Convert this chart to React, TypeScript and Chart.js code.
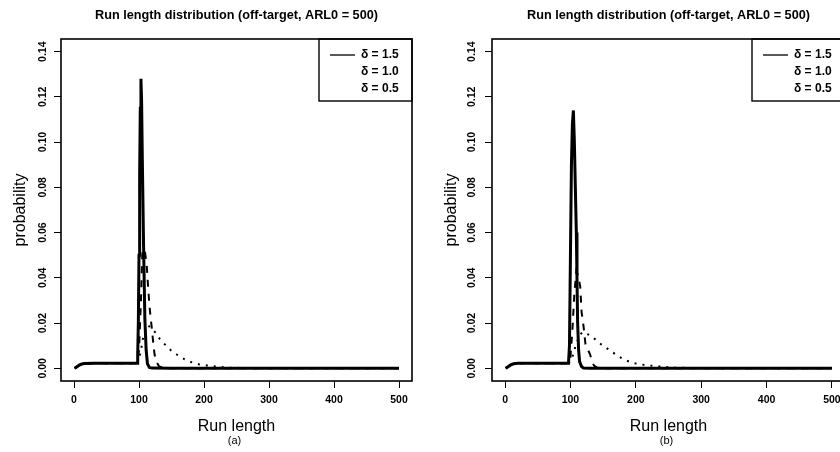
import React, { useEffect, useRef } from "react";
import { Chart, registerables } from "chart.js";

Chart.register(...registerables);

// ---------- shared text / ticks ----------
const titleText = "Run length distribution (off-target, ARL0 = 500)";
const xLabel = "Run length";
const yLabel = "probability";
const legendLabels = ["δ = 1.5", "δ = 1.0", "δ = 0.5"];
const xTicks = [0, 100, 200, 300, 400, 500];
const yTicks = [0, 0.02, 0.04, 0.06, 0.08, 0.1, 0.12, 0.14];

// ---------- panel (a) ----------
const aSolidX = [1, 4, 8, 12, 16, 30, 60, 97, 98, 99, 100, 101, 102, 103, 104, 105, 107, 109, 111, 113, 116, 120, 150, 200, 300, 400, 500];
const aSolidY = [0, 0.0006, 0.0014, 0.0019, 0.0021, 0.0022, 0.0022, 0.0022, 0.006, 0.02, 0.05, 0.085, 0.115, 0.128, 0.118, 0.095, 0.055, 0.022, 0.008, 0.002, 0.0004, 0.0001, 0, 0, 0, 0, 0];

const aDashX = [1, 4, 8, 12, 16, 30, 60, 97, 100, 103, 105, 107, 109, 112, 114, 116, 118, 120, 122, 124, 127, 131, 140, 160, 200, 300, 400, 500];
const aDashY = [0, 0.0006, 0.0014, 0.0019, 0.0021, 0.0022, 0.0022, 0.0022, 0.008, 0.03, 0.05, 0.056, 0.052, 0.045, 0.036, 0.028, 0.022, 0.017, 0.011, 0.006, 0.0028, 0.0008, 0.0001, 0, 0, 0, 0, 0];

const aDotX = [1, 4, 8, 12, 16, 30, 60, 97, 100, 103, 106, 110, 114, 118, 125, 132, 140, 149, 158, 169, 180, 192, 204, 220, 240, 270, 300, 400, 500];
const aDotY = [0, 0.0006, 0.0014, 0.0019, 0.0021, 0.0022, 0.0022, 0.0022, 0.004, 0.008, 0.013, 0.017, 0.019, 0.018, 0.0159, 0.013, 0.0105, 0.008, 0.0061, 0.0042, 0.0028, 0.0018, 0.0013, 0.0007, 0.0003, 0.0001, 0, 0, 0];

// ---------- panel (b) ----------
const bSolidX = [1, 4, 8, 13, 20, 60, 97, 98.5, 100, 101.5, 103, 104.5, 106, 107.5, 109, 110, 111, 112.5, 114, 117, 120, 130, 200, 300, 400, 500];
const bSolidY = [0, 0.0006, 0.0014, 0.002, 0.0022, 0.0022, 0.0022, 0.01, 0.05, 0.09, 0.108, 0.114, 0.1, 0.08, 0.06, 0.04, 0.02, 0.008, 0.003, 0.0008, 0.0001, 0, 0, 0, 0, 0];

const bDashX = [1, 4, 8, 13, 20, 60, 97, 100, 103, 106, 109, 112, 115, 117, 120, 123, 127, 130, 133, 136, 140, 150, 170, 300, 400, 500];
const bDashY = [0, 0.0006, 0.0014, 0.002, 0.0022, 0.0022, 0.0022, 0.005, 0.017, 0.033, 0.043, 0.041, 0.036, 0.025, 0.0187, 0.0106, 0.008, 0.0062, 0.003, 0.0012, 0.0004, 0.0001, 0, 0, 0, 0];

const bDotX = [1, 4, 8, 13, 20, 60, 97, 100, 104, 108, 113, 118, 127, 138, 147, 158, 169, 181, 194, 206, 219, 232, 245, 260, 290, 320, 400, 500];
const bDotY = [0, 0.0006, 0.0014, 0.002, 0.0022, 0.0022, 0.0022, 0.003, 0.006, 0.01, 0.014, 0.016, 0.015, 0.0128, 0.0106, 0.0084, 0.0062, 0.004, 0.0025, 0.0018, 0.0013, 0.0009, 0.0006, 0.0003, 0.0001, 0, 0, 0];

const FONT = '"Liberation Sans", Arial, Helvetica, sans-serif';

type PanelProps = {
  caption: string;
  solid: [number[], number[]];
  dash: [number[], number[]];
  dot: [number[], number[]];
  left: number;
  width: number;
  axisW: number;
  padRight: number;
  tickPad: number;
  yTitlePad: number;
};

const pts = (xs: number[], ys: number[]) => xs.map((v, i) => ({ x: v, y: ys[i] }));

function Panel(p: PanelProps) {
  const ref = useRef<HTMLCanvasElement | null>(null);
  useEffect(() => {
    if (!ref.current) return;
    const H = 452;
    const top = 39;
    const bottom = 381;

    const decor = {
      id: "decor",
      afterDraw(chart: any) {
        const { ctx, chartArea: a } = chart;
        const cx = (a.left + a.right) / 2;
        ctx.save();
        ctx.strokeStyle = "#000";
        ctx.lineWidth = 1.6;
        ctx.strokeRect(a.left, a.top, a.right - a.left, a.bottom - a.top);
        ctx.fillStyle = "#000";
        ctx.textAlign = "center";
        ctx.textBaseline = "middle";
        ctx.font = `bold 12.7px ${FONT}`;
        ctx.fillText(titleText, cx, 15);
        ctx.font = `11px ${FONT}`;
        ctx.fillText(p.caption, cx - 2, 440.5);
        // legend
        const lw = 93;
        const lx = a.right - lw;
        const ly = a.top;
        ctx.lineWidth = 1.4;
        ctx.strokeRect(lx, ly, lw, 62);
        ctx.beginPath();
        ctx.moveTo(lx + 11, ly + 16);
        ctx.lineTo(lx + 36, ly + 16);
        ctx.lineWidth = 1.3;
        ctx.stroke();
        ctx.font = `bold 12px ${FONT}`;
        ctx.textAlign = "left";
        legendLabels.forEach((t, i) => ctx.fillText(t, lx + 42, ly + 16 + i * 16.6));
        ctx.restore();
      },
    };

    const tickFont = { family: FONT, size: 10.5, weight: "bold" };
    const chart = new Chart(ref.current, {
      type: "line",
      data: {
        datasets: [
          {
            data: pts(p.solid[0], p.solid[1]),
            borderColor: "#000",
            borderWidth: 3,
            pointRadius: 0,
            tension: 0,
          },
          {
            data: pts(p.dash[0], p.dash[1]),
            borderColor: "#000",
            borderWidth: 2,
            borderDash: [7, 7],
            pointRadius: 0,
            tension: 0,
          },
          {
            data: pts(p.dot[0], p.dot[1]),
            borderColor: "#000",
            borderWidth: 2,
            borderDash: [2, 6],
            pointRadius: 0,
            tension: 0,
          },
        ],
      },
      options: {
        responsive: false,
        animation: false,
        devicePixelRatio: 1,
        layout: { padding: { left: 0, top, right: p.padRight, bottom: 0 } },
        plugins: { legend: { display: false }, tooltip: { enabled: false }, title: { display: false } },
        scales: {
          x: {
            type: "linear",
            min: -20,
            max: 520,
            afterBuildTicks: (s: any) => {
              s.ticks = xTicks.map((v) => ({ value: v }));
            },
            afterFit: (s: any) => {
              s.height = H - bottom;
            },
            ticks: { font: tickFont, color: "#000", padding: 6, maxRotation: 0, autoSkip: false },
            grid: { drawOnChartArea: false, drawTicks: true, tickLength: 7, color: "#000", lineWidth: 1 },
            border: { display: false },
            title: {
              display: true,
              text: xLabel,
              color: "#000",
              font: { family: FONT, size: 16 },
              padding: { top: 0, bottom: 16 },
            },
          },
          y: {
            type: "linear",
            min: -0.0056,
            max: 0.1456,
            afterBuildTicks: (s: any) => {
              s.ticks = yTicks.map((v) => ({ value: v }));
            },
            afterFit: (s: any) => {
              s.width = p.axisW;
            },
            ticks: {
              font: tickFont,
              color: "#000",
              padding: p.tickPad,
              minRotation: 90,
              maxRotation: 90,
              crossAlign: "center",
              autoSkip: false,
              callback: (v: any) => Number(v).toFixed(2),
            },
            grid: { drawOnChartArea: false, drawTicks: true, tickLength: 7, color: "#000", lineWidth: 1 },
            border: { display: false },
            title: {
              display: true,
              text: yLabel,
              color: "#000",
              font: { family: FONT, size: 16 },
              padding: { top: p.yTitlePad, bottom: 0 },
            },
          },
        },
      } as any,
      plugins: [decor],
    });
    return () => chart.destroy();
  }, []);
  return (
    <canvas
      ref={ref}
      width={p.width}
      height={452}
      style={{ position: "absolute", left: p.left, top: 0, width: p.width, height: 452 }}
    />
  );
}

export default function App() {
  return (
    <div
      style={{
        position: "fixed",
        left: 0,
        top: 0,
        width: 840,
        height: 452,
        overflow: "hidden",
        background: "#fff",
      }}
    >
      <Panel
        caption="(a)"
        solid={[aSolidX, aSolidY]}
        dash={[aDashX, aDashY]}
        dot={[aDotX, aDotY]}
        left={0}
        width={420}
        axisW={61}
        padRight={8}
        tickPad={1}
        yTitlePad={11.4}
      />
      <Panel
        caption="(b)"
        solid={[bSolidX, bSolidY]}
        dash={[bDashX, bDashY]}
        dot={[bDotX, bDotY]}
        left={420}
        width={440}
        axisW={72}
        padRight={15}
        tickPad={3}
        yTitlePad={22.4}
      />
    </div>
  );
}
